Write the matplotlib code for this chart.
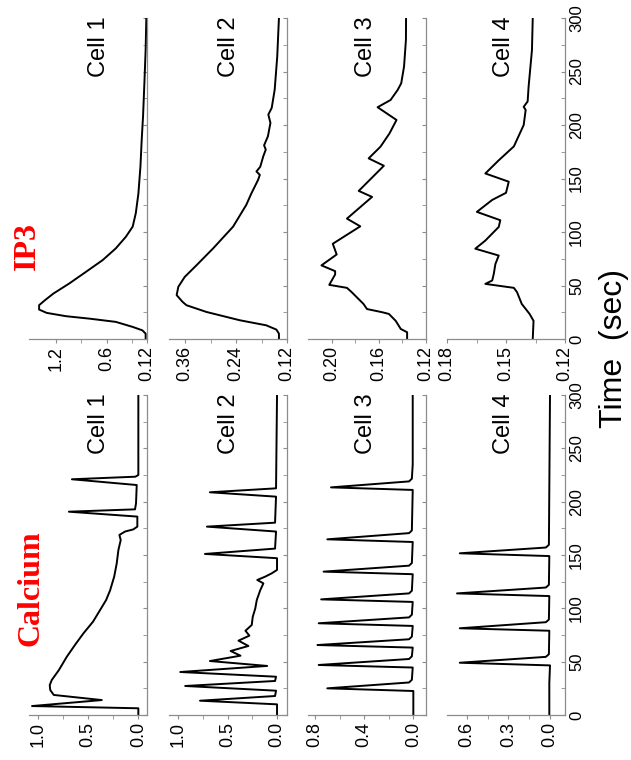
import matplotlib
matplotlib.use("Agg")
import matplotlib.pyplot as plt

plt.rcParams['font.family'] = ['Liberation Sans', 'DejaVu Sans']

# ---- data: time (sec) and value ----
ca1_t = [0, 6.3, 8.4, 14, 18.8, 23.4, 28, 32.8, 42, 54.7, 65.6, 76.6, 87.5, 98.4, 107.8, 117,
         129.7, 142, 154.7, 164, 168.8, 172, 174, 176.6, 186, 190.6, 192.8, 198.4, 215.6, 221,
         223.4, 225, 300]
ca1_v = [0, 0, 1.056, 0.363, 0.84, 0.875, 0.88, 0.86, 0.79, 0.71, 0.63, 0.545, 0.45, 0.38, 0.32,
         0.28, 0.24, 0.215, 0.198, 0.175, 0.188, 0.132, 0.05, 0.01, 0.01, 0.69, 0.033, 0.023,
         0.016, 0.66, 0.03, 0.0, 0.0]

ca2_t = [0, 10, 13.4, 17.8, 22.8, 27.2, 31.9, 35.9, 40.3, 46, 50.6, 55.6, 60, 64.7, 69.7, 74.4,
         79, 84.4, 92, 100, 107.8, 117, 123.4, 126.6, 129.7, 132.8, 136, 147, 151, 156, 172,
         176.6, 180.3, 204.7, 208.8, 212.5, 300]
ca2_v = [0, 0, 0.78, 0.02, 0.01, 0.93, 0.02, 0.01, 0.98, 0.10, 0.68, 0.37, 0.47, 0.29, 0.39, 0.28,
         0.32, 0.256, 0.246, 0.22, 0.205, 0.17, 0.138, 0.2, 0.12, 0.054, 0, 0, 0.73, 0.02, 0.01,
         0.71, 0.02, 0.01, 0.68, 0.01, 0]

ca3_t = [0, 22.5, 25, 30.5, 33, 44.5, 46.9, 52.5, 55, 63.2, 65.6, 71, 73.5, 83.5, 86, 91.5, 94,
         106, 108.4, 114, 116.5, 132, 134.4, 140, 142.5, 162.2, 164.7, 170.5, 173, 211, 213.4,
         219, 221.5, 235, 300]
ca3_v = [0, 0, 0.70, 0.035, 0.012, 0.005, 0.77, 0.035, 0.012, 0.005, 0.78, 0.035, 0.012, 0.005,
         0.77, 0.035, 0.012, 0.005, 0.75, 0.035, 0.012, 0.005, 0.73, 0.035, 0.012, 0.005, 0.70,
         0.035, 0.012, 0.005, 0.67, 0.035, 0.012, 0.005, 0.005]

ca4_t = [0, 30, 46.5, 49, 54.5, 57, 79, 81.3, 87, 89.5, 111.5, 114, 119.5, 122, 149, 151.6, 157,
         159.5, 300]
ca4_v = [0.005, 0.005, 0.0, 0.65, 0.03, 0.008, 0.005, 0.65, 0.03, 0.008, 0.005, 0.67, 0.03,
         0.008, 0.005, 0.65, 0.03, 0.008, 0.0]

ip1_t = [0, 5, 8.1, 11.3, 16, 19, 21.3, 24.4, 27.5, 31.6, 36.3, 42.5, 52, 63, 73.8, 84.7, 95.6,
         105, 117.5, 136, 161, 186, 208, 239, 270.6, 300]
ip1_v = [0.136, 0.136, 0.175, 0.29, 0.49, 0.80, 1.08, 1.31, 1.40, 1.40, 1.33, 1.23, 1.04, 0.84,
         0.645, 0.49, 0.37, 0.29, 0.253, 0.222, 0.198, 0.183, 0.167, 0.151, 0.136, 0.128]

ip2_t = [0, 5, 8.8, 12.8, 17.5, 25.3, 31.6, 34.7, 41, 48.8, 58, 69, 84.7, 105, 125.3, 136, 148.8,
         153.4, 156.6, 161, 170.6, 177, 181, 189.4, 202, 209.7, 216, 233, 264, 300]
ip2_v = [0.139, 0.139, 0.145, 0.169, 0.231, 0.31, 0.357, 0.366, 0.38, 0.376, 0.361, 0.333, 0.294,
         0.247, 0.216, 0.204, 0.188, 0.184, 0.192, 0.183, 0.176, 0.17, 0.174, 0.165, 0.159, 0.164,
         0.156, 0.149, 0.143, 0.139]

ip3_t = [0, 6.3, 9.4, 17, 23.4, 25, 28, 32.8, 43.8, 47.8, 50.6, 60.3, 63.4, 68.8, 79, 89, 105.3,
         112.5, 132.8, 138.4, 161.9, 168.8, 179.7, 192, 204.7, 216.6, 223.4, 232.8, 239, 254.7,
         279.7, 300]
ip3_v = [0.136, 0.136, 0.1414, 0.1457, 0.1514, 0.157, 0.170, 0.173, 0.183, 0.187, 0.202, 0.197,
         0.197, 0.2086, 0.1957, 0.199, 0.1757, 0.187, 0.1657, 0.177, 0.1557, 0.1686, 0.1586,
         0.151, 0.145, 0.161, 0.150, 0.144, 0.141, 0.1386, 0.137, 0.1369]

ip4_t = [0, 17, 23.4, 32.8, 43.8, 47.8, 51.5, 54.7, 61, 70, 78, 84.4, 92, 104.7, 111, 118.8, 130,
         136.6, 147, 154.7, 167, 180, 200, 214, 217, 222, 236, 270, 300]
ip4_v = [0.1364, 0.136, 0.138, 0.142, 0.1444, 0.146, 0.1605, 0.157, 0.1562, 0.1554, 0.1537,
         0.1656, 0.1605, 0.1537, 0.1529, 0.1648, 0.157, 0.150, 0.1486, 0.1605, 0.1537, 0.146,
         0.141, 0.140, 0.141, 0.139, 0.1385, 0.1368, 0.1364]

cells = ['Cell 1', 'Cell 2', 'Cell 3', 'Cell 4']
ca_series = [(ca1_t, ca1_v), (ca2_t, ca2_v), (ca3_t, ca3_v), (ca4_t, ca4_v)]
ip_series = [(ip1_t, ip1_v), (ip2_t, ip2_v), (ip3_t, ip3_v), (ip4_t, ip4_v)]

ca_ticks = [[0.0, 0.5, 1.0], [0.0, 0.5, 1.0], [0.0, 0.4, 0.8], [0.0, 0.3, 0.6]]
ca_ticklabels = [['0.0', '0.5', '1.0'], ['0.0', '0.5', '1.0'], ['0.0', '0.4', '0.8'], ['0.0', '0.3', '0.6']]
ip_ticks = [[0.12, 0.6, 1.2], [0.12, 0.24, 0.36], [0.12, 0.16, 0.20], [0.12, 0.15, 0.18]]
ip_ticklabels = [['0.12', '0.6', '1.2'], ['0.12', '0.24', '0.36'], ['0.12', '0.16', '0.20'], ['0.12', '0.15', '0.18']]
time_ticks = [0, 50, 100, 150, 200, 250, 300]

# ---- layout (figure is drawn rotated: time runs upward) ----
W, H = 631.0, 760.0
col_left = [29, 169, 308, 447]
col_w = 118
ca_lim = [(-0.086, 1.086), (-0.101, 1.094), (-0.103, 0.857), (-0.108, 0.742)]
ip_lim = [(0.12, 1.52), (0.12, 0.398), (0.12, 0.22), (0.12, 0.18)]
ca_minor = [[0.25, 0.75], [0.25, 0.75], [0.2, 0.6], [0.15, 0.45]]
ip_minor = [[0.3, 0.9], [0.18, 0.30], [0.14, 0.18], [0.135, 0.165]]
label_x = [0.59, 0.51, 0.49, 0.48]
gray = '#8c8c8c'

fig = plt.figure(figsize=(6.31, 7.60), dpi=100)


def panel(i, top, bottom, t, v, lim, ticks, labels, minor):
    ax = fig.add_axes([col_left[i] / W, 1 - bottom / H, col_w / W, (bottom - top) / H])
    ax.plot(v, t, color='black', lw=1.4)
    ax.set_ylim(0, 300)
    ax.set_xlim(lim[1], lim[0])
    ax.set_xticks(ticks)
    ax.set_xticklabels(labels)
    ax.set_xticks(minor, minor=True)
    ax.set_yticks(time_ticks)
    ax.set_yticks([25, 75, 125, 175, 225, 275], minor=True)
    ax.yaxis.tick_right()
    for s in ['left', 'top']:
        ax.spines[s].set_visible(False)
    for s in ['right', 'bottom']:
        ax.spines[s].set_color(gray)
        ax.spines[s].set_linewidth(0.9)
    ax.tick_params(axis='x', which='both', direction='out', length=3, color=gray,
                   labelsize=13, labelrotation=90, pad=2)
    ax.tick_params(axis='y', which='both', direction='in', length=3, color=gray,
                   labelsize=12, labelrotation=90, pad=3, labelright=(i == 3), labelleft=False)
    for lab in ax.get_yticklabels():
        lab.set_va('center')
    ax.text(label_x[i], 0.91, cells[i], transform=ax.transAxes, rotation=90,
            ha='center', va='center', fontsize=17)
    ax.patch.set_alpha(0)
    return ax


for i in range(4):
    panel(i, 18, 339, ip_series[i][0], ip_series[i][1], ip_lim[i], ip_ticks[i], ip_ticklabels[i], ip_minor[i])
    panel(i, 395, 715, ca_series[i][0], ca_series[i][1], ca_lim[i], ca_ticks[i], ca_ticklabels[i], ca_minor[i])

fig.text(31 / W, 1 - 588 / H, 'Calcium', rotation=90, color='red', fontsize=23,
         fontweight='bold', family='Liberation Serif', ha='center', va='center')
fig.text(27 / W, 1 - 246 / H, 'IP3', rotation=90, color='red', fontsize=23,
         fontweight='bold', family='Liberation Serif', ha='center', va='center')
fig.text(614 / W, 1 - 348 / H, 'Time  (sec)', rotation=90, fontsize=23, ha='center', va='center')

fig.savefig('out.png', dpi=100)
